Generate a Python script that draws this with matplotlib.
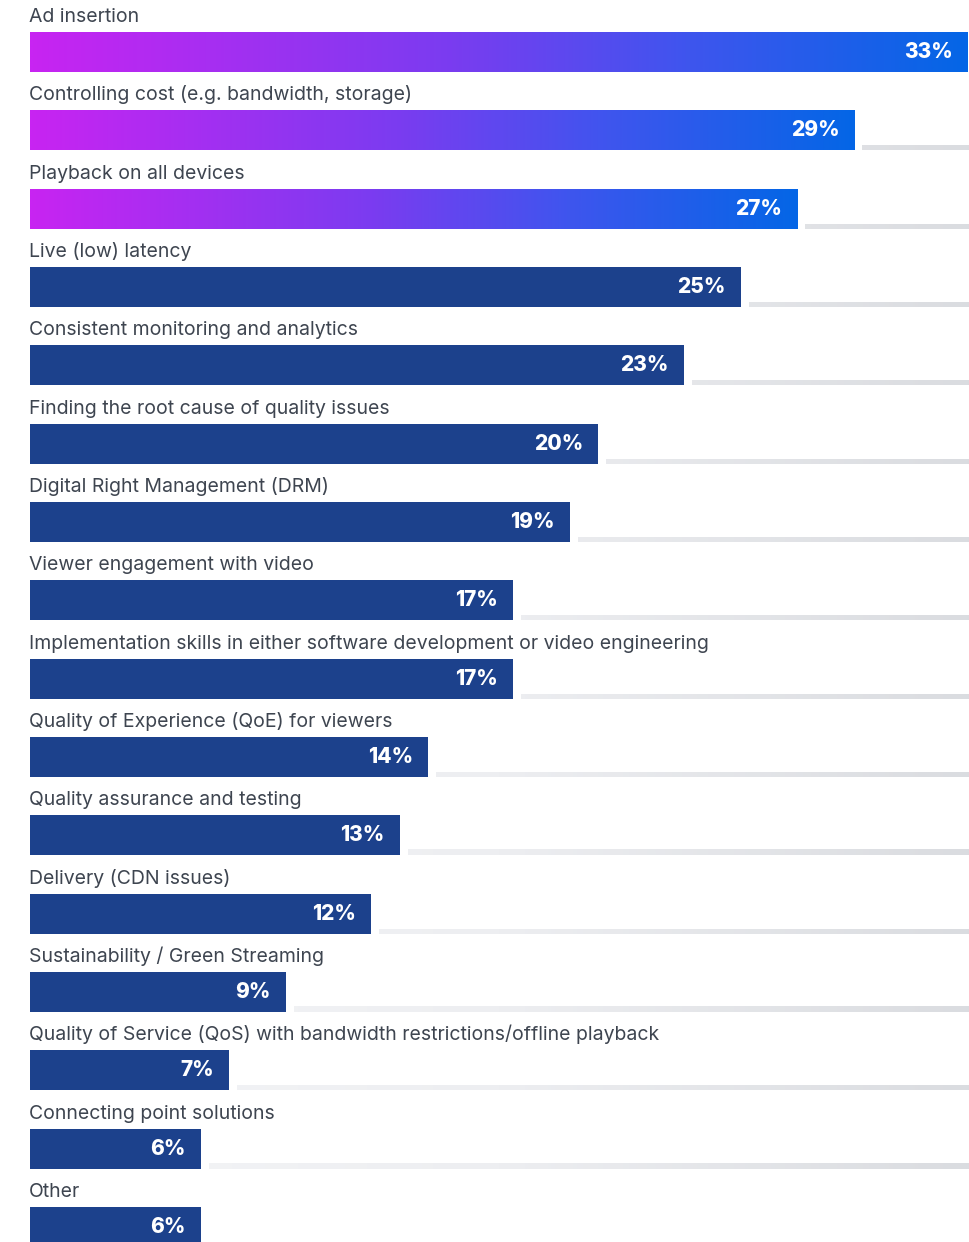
import numpy as np
import matplotlib
matplotlib.use("Agg")
import matplotlib.pyplot as plt
from matplotlib.colors import LinearSegmentedColormap
from matplotlib.patches import Rectangle

categories = [
    "Ad insertion",
    "Controlling cost (e.g. bandwidth, storage)",
    "Playback on all devices",
    "Live (low) latency",
    "Consistent monitoring and analytics",
    "Finding the root cause of quality issues",
    "Digital Right Management (DRM)",
    "Viewer engagement with video",
    "Implementation skills in either software development or video engineering",
    "Quality of Experience (QoE) for viewers",
    "Quality assurance and testing",
    "Delivery (CDN issues)",
    "Sustainability / Green Streaming",
    "Quality of Service (QoS) with bandwidth restrictions/offline playback",
    "Connecting point solutions",
    "Other",
]
values = [33, 29, 27, 25, 23, 20, 19, 17, 17, 14, 13, 12, 9, 7, 6, 6]
highlighted = 3  # first bars drawn with the gradient fill

W, H = 969, 1242
DPI = 100
fig = plt.figure(figsize=(W / DPI, H / DPI), dpi=DPI)
ax = fig.add_axes([0, 0, 1, 1])

# scale: 0% at x=30 px, 33% at x=968 px
px_per_unit = 938 / 33
x_left = -30 / px_per_unit
x_right = 33 + 1 / px_per_unit
ax.set_xlim(x_left, x_right)

# rows: bar centres 78.33 px apart, first centre at y=52 px
row_px = 78.33
y_top = -52 / row_px
y_bot = (H - 52) / row_px
ax.set_ylim(y_bot, y_top)
ax.axis("off")

bar_h = 40 / row_px
px_y = 1 / row_px
px_x = 1 / px_per_unit

grad = LinearSegmentedColormap.from_list(
    "hl", [(0.0, "#C824F2"), (0.45, "#7A3CF0"), (0.7, "#3F55EE"), (1.0, "#0466E6")]
)
track_cmap = LinearSegmentedColormap.from_list(
    "track", [(0.0, "#F4F5F7"), (0.5, "#EDEEF1"), (1.0, "#DADCE0")]
)
dark_blue = "#1C418C"
label_color = "#3E4550"
font = ["Inter", "DejaVu Sans"]

ramp = np.linspace(0, 1, 512).reshape(1, -1)

for i, (cat, v) in enumerate(zip(categories, values)):
    top = i - bar_h / 2
    bottom = i + bar_h / 2

    # category label above the bar
    ax.text(-1 * px_x, top - 10 * px_y, cat, ha="left", va="baseline",
            fontsize=14, color=label_color, family=font)

    # light track to the right of the bar (only where it lies inside the canvas)
    t_start = v + 8 * px_x
    if t_start < x_right and bottom < y_bot:
        ax.imshow(ramp, cmap=track_cmap, aspect="auto",
                  extent=(0, x_right, bottom, bottom - 5 * px_y),
                  interpolation="bilinear", zorder=1)
        ax.add_patch(Rectangle((x_left, bottom - 7 * px_y), t_start - x_left, 8 * px_y,
                               facecolor="white", edgecolor="none", zorder=1.5))

    # bar
    if i < highlighted:
        im = ax.imshow(ramp, cmap=grad, aspect="auto",
                       extent=(0, v, bottom, top), interpolation="bilinear", zorder=2)
        clip = Rectangle((0, top), v, bar_h, transform=ax.transData,
                         facecolor="none", edgecolor="none")
        ax.add_patch(clip)
        im.set_clip_path(clip)
    else:
        ax.barh(i, v, height=bar_h, left=0, color=dark_blue, zorder=2)

    # value label inside the bar end
    ax.text(v - 15 * px_x, i, f"{v}%", ha="right", va="center",
            fontsize=15, fontweight="heavy", color="white",
            family=font, zorder=3)

ax.set_xlim(x_left, x_right)
ax.set_ylim(y_bot, y_top)
fig.savefig("out.png", dpi=DPI, facecolor="white")
